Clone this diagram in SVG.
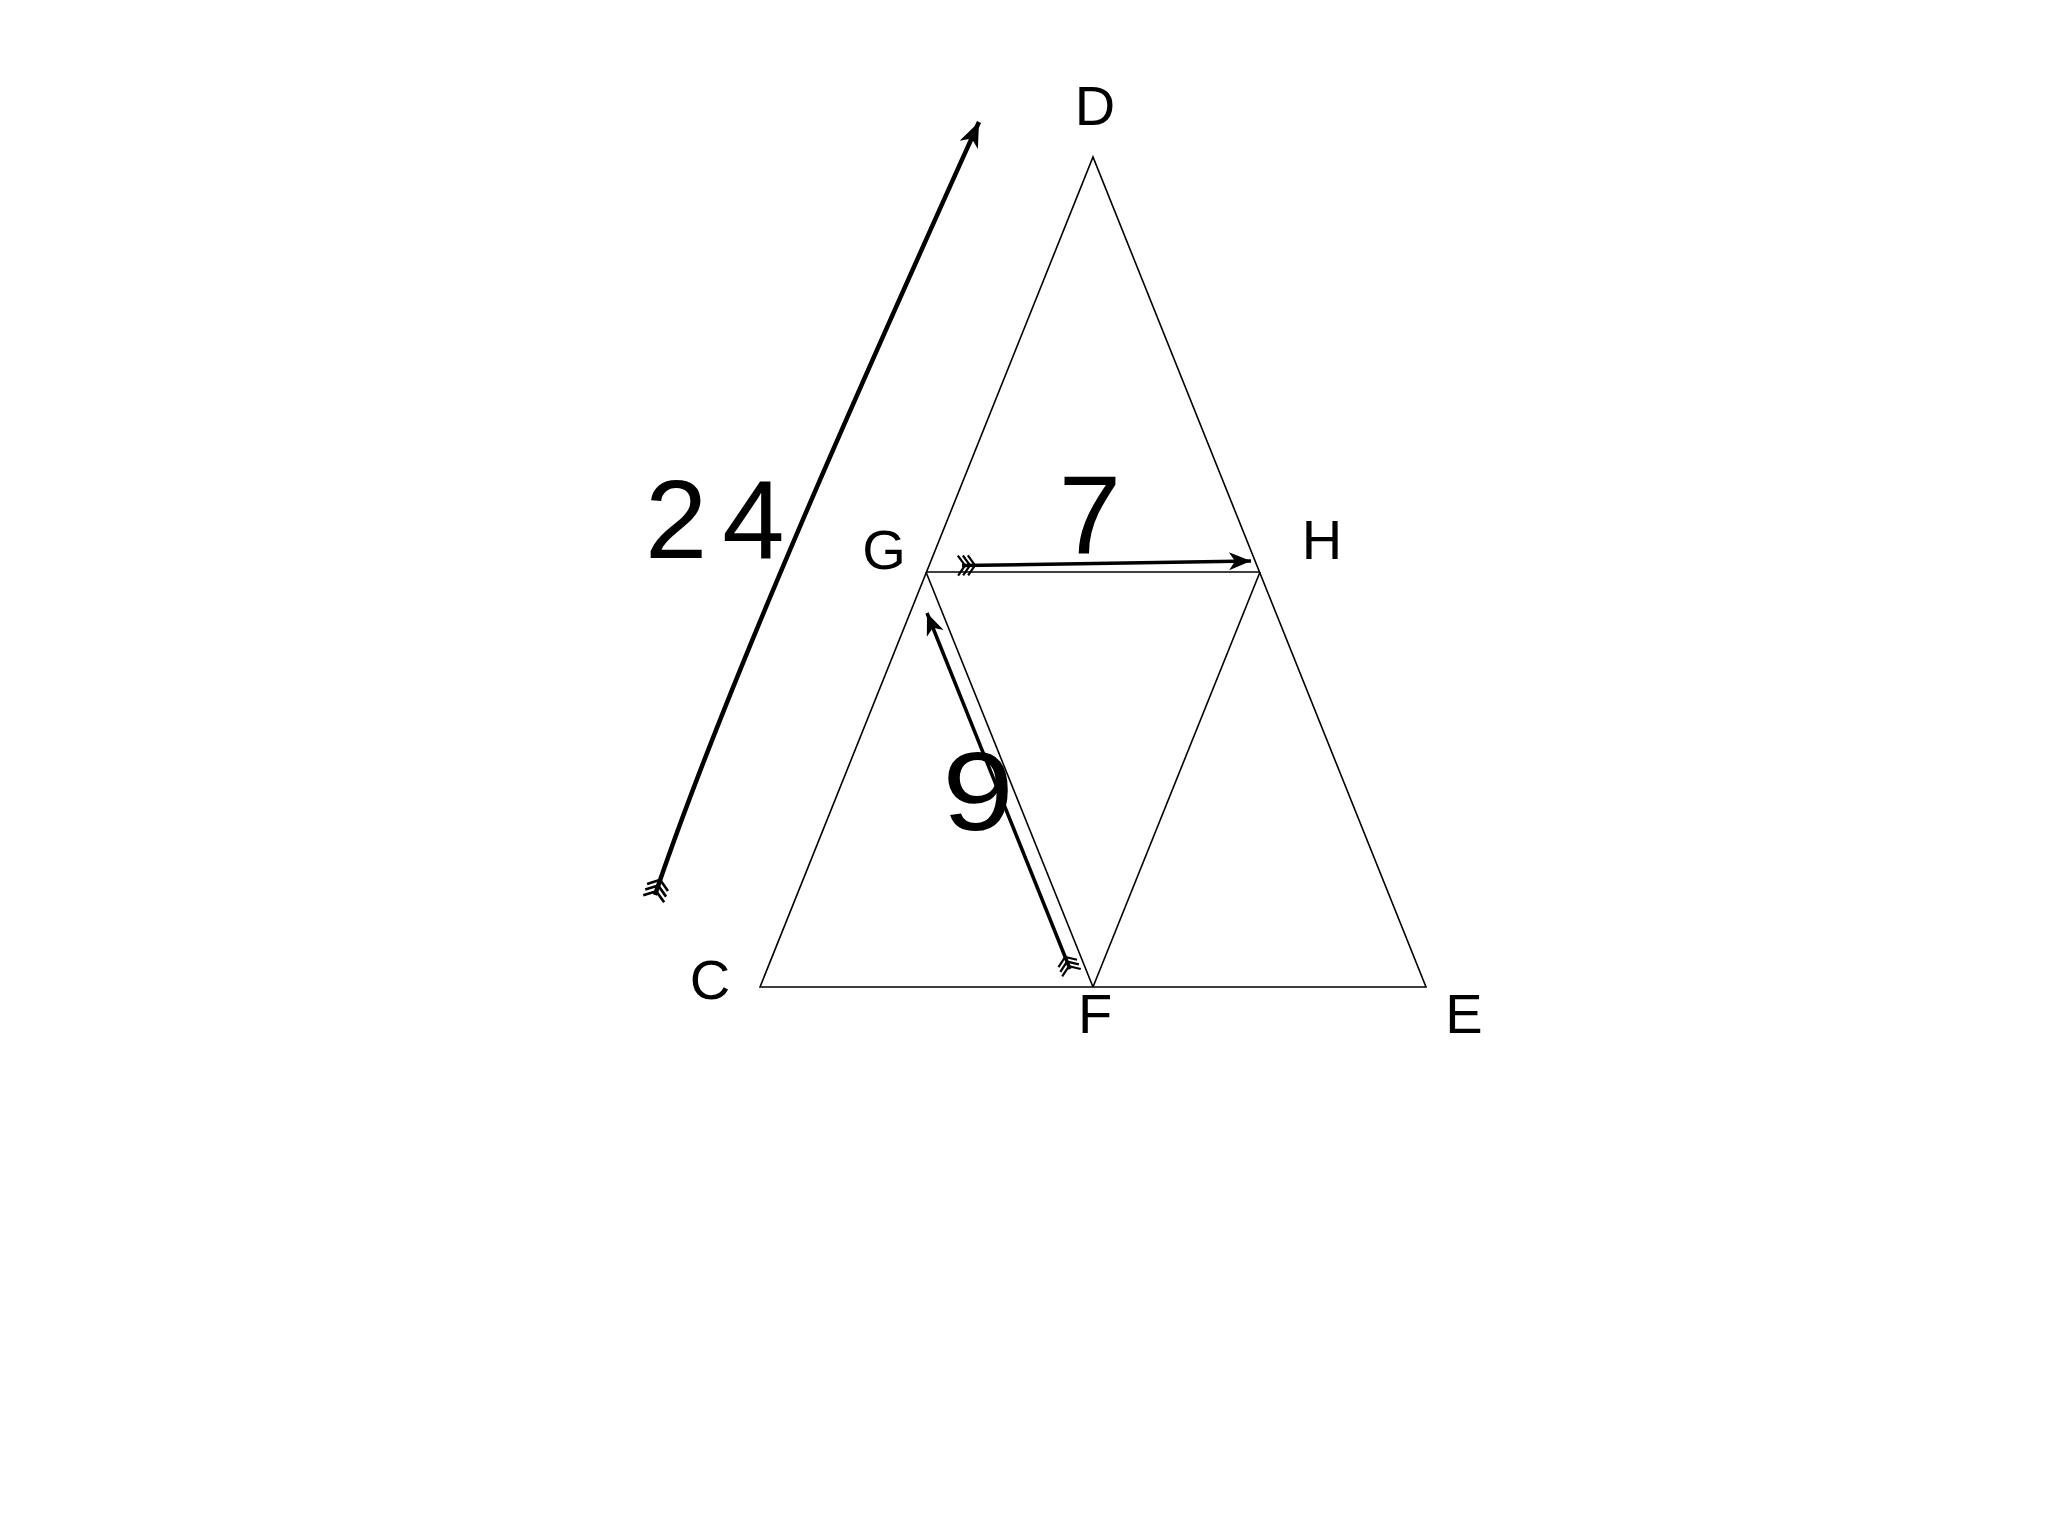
<svg xmlns="http://www.w3.org/2000/svg" width="2048" height="1536" viewBox="0 0 2048 1536">
<style>
.edge{fill:none;stroke:#000;stroke-width:1.6;stroke-linejoin:miter}
.arr{fill:none;stroke:#000;stroke-linecap:butt}
.lbl{font-family:"Liberation Sans",Arial,sans-serif;font-size:56px;fill:#000;text-anchor:middle}
.big{font-family:"Liberation Sans",Arial,sans-serif;font-size:112px;fill:#000}
</style>
<defs>
<marker id="head" markerUnits="userSpaceOnUse" markerWidth="40" markerHeight="40" viewBox="-30 -15 40 30" refX="0" refY="0" orient="auto" overflow="visible">
<path d="M0,0 L-22,-9 L-16,0 L-22,9 Z" fill="#000"/>
</marker>
<marker id="headBig" markerUnits="userSpaceOnUse" markerWidth="40" markerHeight="40" viewBox="-30 -15 40 30" refX="0" refY="0" orient="auto" overflow="visible">
<path d="M0,0 L-25,-10 L-18,0 L-25,10 Z" fill="#000"/>
</marker>
<marker id="fletch" markerUnits="userSpaceOnUse" markerWidth="40" markerHeight="40" viewBox="-15 -15 40 30" refX="0" refY="0" orient="auto" overflow="visible">
<path d="M-4,-10 L3,0 L-4,10 M1,-10 L8,0 L1,10 M6,-10 L13,0 L6,10" fill="none" stroke="#000" stroke-width="2.2"/>
</marker>
<marker id="fletchBig" markerUnits="userSpaceOnUse" markerWidth="40" markerHeight="40" viewBox="-15 -15 40 30" refX="0" refY="0" orient="auto" overflow="visible">
<path d="M-4,-11 L4,0 L-4,11 M2,-11 L10,0 L2,11 M8,-11 L16,0 L8,11" fill="none" stroke="#000" stroke-width="2.6"/>
</marker>
</defs>
<rect width="2048" height="1536" fill="#fff"/>
<g id="figure">
<polygon class="edge" points="760,987 1093,157 1426,987"/>
<line class="edge" x1="926" y1="572" x2="1260" y2="572"/>
<line class="edge" x1="926" y1="572" x2="1093" y2="987"/>
<line class="edge" x1="1093" y1="987" x2="1260" y2="572"/>
</g>
<g id="connectors">
<path id="arrow-24" class="arr" stroke-width="4.5" d="M655,895 C730,673 880,342 979,122" marker-start="url(#fletchBig)" marker-end="url(#headBig)"/>
<line id="arrow-7" class="arr" stroke-width="3.5" x1="962" y1="565.5" x2="1251" y2="561" marker-start="url(#fletch)" marker-end="url(#head)"/>
<line id="arrow-9" class="arr" stroke-width="3.5" x1="1070" y1="969" x2="927" y2="613" marker-start="url(#fletch)" marker-end="url(#head)"/>
</g>
<g id="node-D"><text class="lbl" x="1095" y="125">D</text></g>
<g id="node-G"><text class="lbl" x="884" y="569">G</text></g>
<g id="node-H"><text class="lbl" x="1322" y="559">H</text></g>
<g id="node-C"><text class="lbl" x="710" y="999">C</text></g>
<g id="node-F"><text class="lbl" x="1095" y="1033">F</text></g>
<g id="node-E"><text class="lbl" x="1464" y="1033">E</text></g>
<g id="label-24"><text class="big" x="645" y="558" letter-spacing="15">24</text></g>
<g id="label-7"><text class="big" x="1090" y="553" text-anchor="middle">7</text></g>
<g id="label-9"><text class="big" x="978" y="830" text-anchor="middle" transform="translate(978 0) scale(1.15 1) translate(-978 0)">9</text></g>
</svg>
